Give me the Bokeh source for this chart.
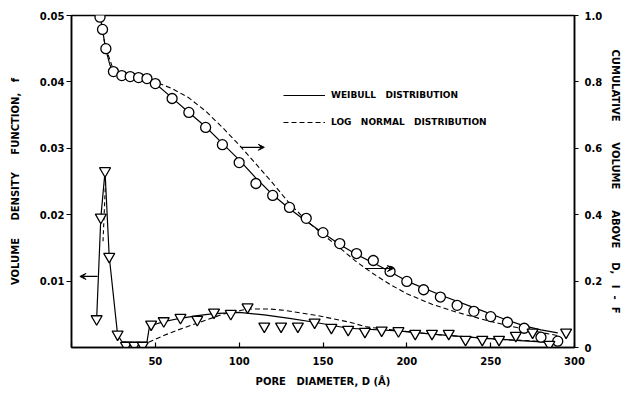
from bokeh.plotting import figure
from bokeh.models import (Range1d, LinearAxis, FixedTicker, Arrow, VeeHead, Label,
                          Legend, LegendItem)
from bokeh.embed import file_html
from bokeh.resources import INLINE

# ---------------- data ----------------
# cumulative volume above D (right axis, 0..1) - circles
cum_D = [17, 18.5, 20.5, 25, 30, 35, 40, 45, 50, 60, 70, 80, 90, 100, 110, 120, 130,
         140, 150, 160, 170, 180, 190, 200, 210, 220, 230, 240, 250, 260, 270, 280, 290]
cum_v = [0.995, 0.958, 0.900, 0.831, 0.819, 0.816, 0.813, 0.810, 0.795, 0.750, 0.708,
         0.663, 0.611, 0.557, 0.494, 0.458, 0.422, 0.389, 0.346, 0.313, 0.283, 0.262,
         0.229, 0.199, 0.174, 0.152, 0.127, 0.109, 0.093, 0.076, 0.058, 0.031, 0.019]

# volume density function f (left axis) - triangles
den_D = [15, 17.5, 20, 22.5, 27.5, 32.5, 37.5, 42.5, 47.5, 55, 65, 75, 85, 95, 105, 115,
         125, 135, 145, 155, 165, 175, 185, 195, 205, 215, 225, 235, 245, 255, 265, 275,
         285, 295]
den_f = [0.0043, 0.0196, 0.0266, 0.0137, 0.0020, 0.0003, 0.0003, 0.0003, 0.0035, 0.0040,
         0.0045, 0.0042, 0.0053, 0.0051, 0.0061, 0.0032, 0.0032, 0.0032, 0.0038, 0.0030,
         0.0027, 0.0024, 0.0026, 0.0025, 0.0021, 0.0021, 0.0021, 0.0012, 0.0012, 0.0012,
         0.0018, 0.0023, 0.00045, 0.0023]

# Weibull fits
wb_cum_D = [17, 18.5, 20.3, 23, 25, 30, 35, 40, 45, 50, 60, 70, 80, 90, 100, 110, 120,
            130, 140, 150, 160, 170, 180, 190, 200, 220, 240, 260, 270, 280, 290]
wb_cum_v = [1.0, 0.958, 0.900, 0.850, 0.830, 0.818, 0.815, 0.812, 0.807, 0.795, 0.752,
            0.708, 0.665, 0.615, 0.565, 0.510, 0.460, 0.418, 0.380, 0.345, 0.310, 0.280,
            0.255, 0.228, 0.200, 0.158, 0.120, 0.082, 0.065, 0.053, 0.044]
wb_den_D = [15, 17.5, 20, 22.5, 27.5, 30, 35, 40, 45, 46.5, 50, 55, 65, 75, 85, 100, 115,
            130, 145, 165, 195, 215, 245, 270, 290]
wb_den_f = [0.0043, 0.0196, 0.0265, 0.0137, 0.0019, 0.0009, 0.0008, 0.0008, 0.0008,
            0.0032, 0.0035, 0.0039, 0.0044, 0.0048, 0.0051, 0.0053, 0.0049, 0.0044,
            0.0038, 0.0029, 0.0025, 0.0020, 0.0014, 0.0010, 0.0007]

# Log normal fits
ln_cum_D = [17, 20, 25, 30, 40, 50, 60, 70, 80, 90, 100, 110, 120, 130, 140, 150, 160,
            170, 180, 190, 200, 215, 230, 245, 260, 275, 290]
ln_cum_v = [1.0, 0.91, 0.835, 0.82, 0.812, 0.800, 0.780, 0.752, 0.712, 0.663, 0.610,
            0.553, 0.495, 0.434, 0.383, 0.340, 0.300, 0.258, 0.222, 0.190, 0.162, 0.130,
            0.106, 0.085, 0.066, 0.050, 0.036]
ln_den_D = [46, 55, 63, 72, 80, 90, 105, 118, 127, 147, 166, 176, 196, 220, 250, 290]
ln_den_f = [0.0008, 0.0018, 0.0026, 0.0034, 0.0041, 0.0050, 0.0058, 0.0058, 0.0056,
            0.0048, 0.0038, 0.0031, 0.0025, 0.0019, 0.0013, 0.0008]
ln_peak_D = [18.8, 20.3]
ln_peak_f = [0.016, 0.025]

x_ticks = [0, 50, 100, 150, 200, 250, 300]
left_ticks = [0.01, 0.02, 0.03, 0.04, 0.05]
right_ticks = [0, 0.2, 0.4, 0.6, 0.8, 1.0]
right_labels = ["0", "0.2", "0.4", "0.6", "0.8", "1.0"]

FONT = "DejaVu Sans"
NB = "\u00a0"


def spaced(words, gaps):
    out = words[0]
    for w, g in zip(words[1:], gaps):
        out += NB * g + w
    return out


p = figure(width=624, height=393, output_backend="svg", toolbar_location=None,
           x_range=Range1d(0, 300), y_range=Range1d(0, 0.05),
           min_border_left=71, min_border_right=50, min_border_top=15,
           min_border_bottom=46)
p.extra_y_ranges = {"cum": Range1d(0, 1)}
p.grid.visible = False
p.outline_line_color = "black"
p.outline_line_width = 1.6
p.background_fill_color = "white"
p.border_fill_color = "white"

# axes styling
xa = p.xaxis[0]
xa.ticker = FixedTicker(ticks=x_ticks)
xa.major_label_overrides = {0: ""}
xa.major_tick_in = 5
xa.major_tick_out = 0
xa.minor_tick_line_color = None
xa.major_label_standoff = 9
xa.axis_label = spaced(["PORE", "DIAMETER,", "D", "(Å)"], [3, 1, 1])
xa.axis_label_standoff = 8

ya = p.yaxis[0]
ya.ticker = FixedTicker(ticks=left_ticks)
ya.major_tick_in = 0
ya.major_tick_out = 5
ya.minor_tick_line_color = None
ya.major_label_standoff = 2
ya.axis_label = spaced(["VOLUME", "DENSITY", "FUNCTION,", "f"], [5, 5, 3])
ya.axis_label_standoff = 16

ra = LinearAxis(y_range_name="cum", ticker=FixedTicker(ticks=right_ticks))
ra.major_label_overrides = {t: l for t, l in zip(right_ticks, right_labels)}
ra.major_tick_in = 0
ra.major_tick_out = 4
ra.minor_tick_line_color = None
ra.major_label_standoff = 6
ra.axis_label = spaced(["CUMULATIVE", "VOLUME", "ABOVE", "D,", "I", "-", "F"],
                       [6, 6, 4, 3, 2, 2])
ra.axis_label_standoff = 5
p.add_layout(ra, "right")

for ax in (xa, ya, ra):
    ax.axis_line_color = "black"
    ax.axis_line_width = 1.4
    ax.major_tick_line_color = "black"
    ax.major_tick_line_width = 1.2
    ax.major_label_text_font = FONT
    ax.major_label_text_font_style = "bold"
    ax.major_label_text_font_size = "10px"
    ax.major_label_text_color = "black"
    ax.axis_label_text_font = FONT
    ax.axis_label_text_font_style = "bold"
    ax.axis_label_text_font_size = "10px"
    ax.axis_label_text_color = "black"

# curves
r_wb1 = p.line(wb_cum_D, wb_cum_v, y_range_name="cum", line_color="black", line_width=1.2)
r_ln1 = p.line(ln_cum_D, ln_cum_v, y_range_name="cum", line_color="black", line_width=1.1,
               line_dash="5 3")
p.line(wb_den_D, wb_den_f, line_color="black", line_width=1.2)
p.line(ln_den_D, ln_den_f, line_color="black", line_width=1.1, line_dash="5 3")
p.line(ln_peak_D, ln_peak_f, line_color="black", line_width=1.1, line_dash="4 3")

# markers
p.scatter(cum_D, cum_v, y_range_name="cum", marker="circle", size=10,
          fill_color="white", line_color="black", line_width=1.3)
p.scatter(den_D, den_f, marker="inverted_triangle", size=11,
          fill_color="white", line_color="black", line_width=1.3)

# arrows
p.add_layout(Arrow(end=VeeHead(size=6, line_color="black", fill_color="black"),
                   x_start=15.5, y_start=0.0107, x_end=5, y_end=0.0107,
                   line_color="black", line_width=1.2))
p.add_layout(Arrow(end=VeeHead(size=6, line_color="black", fill_color="black"),
                   x_start=101, y_start=0.603, x_end=115, y_end=0.603,
                   y_range_name="cum", line_color="black", line_width=1.2))
p.add_layout(Arrow(end=VeeHead(size=6, line_color="black", fill_color="black"),
                   x_start=175, y_start=0.238, x_end=192, y_end=0.238,
                   y_range_name="cum", line_color="black", line_width=1.2))

# origin label
p.add_layout(Label(x=0, y=0, text="0", x_offset=-14, y_offset=-19, text_align="center",
                   text_font=FONT, text_font_style="bold", text_font_size="10px",
                   text_color="black"))

# legend
leg = Legend(items=[LegendItem(label=spaced(["WEIBULL", "DISTRIBUTION"], [3]),
                               renderers=[r_wb1]),
                    LegendItem(label=spaced(["LOG", "NORMAL", "DISTRIBUTION"], [3, 3]),
                               renderers=[r_ln1])],
             location=(212, 215), orientation="vertical",
             glyph_width=42, glyph_height=20, label_height=20, spacing=7, padding=0,
             margin=0, label_standoff=6, border_line_color=None,
             background_fill_alpha=0, label_text_font=FONT,
             label_text_font_style="bold", label_text_font_size="9px",
             label_text_color="black")
p.add_layout(leg)

open("out.html", "w").write(file_html(p, INLINE))
